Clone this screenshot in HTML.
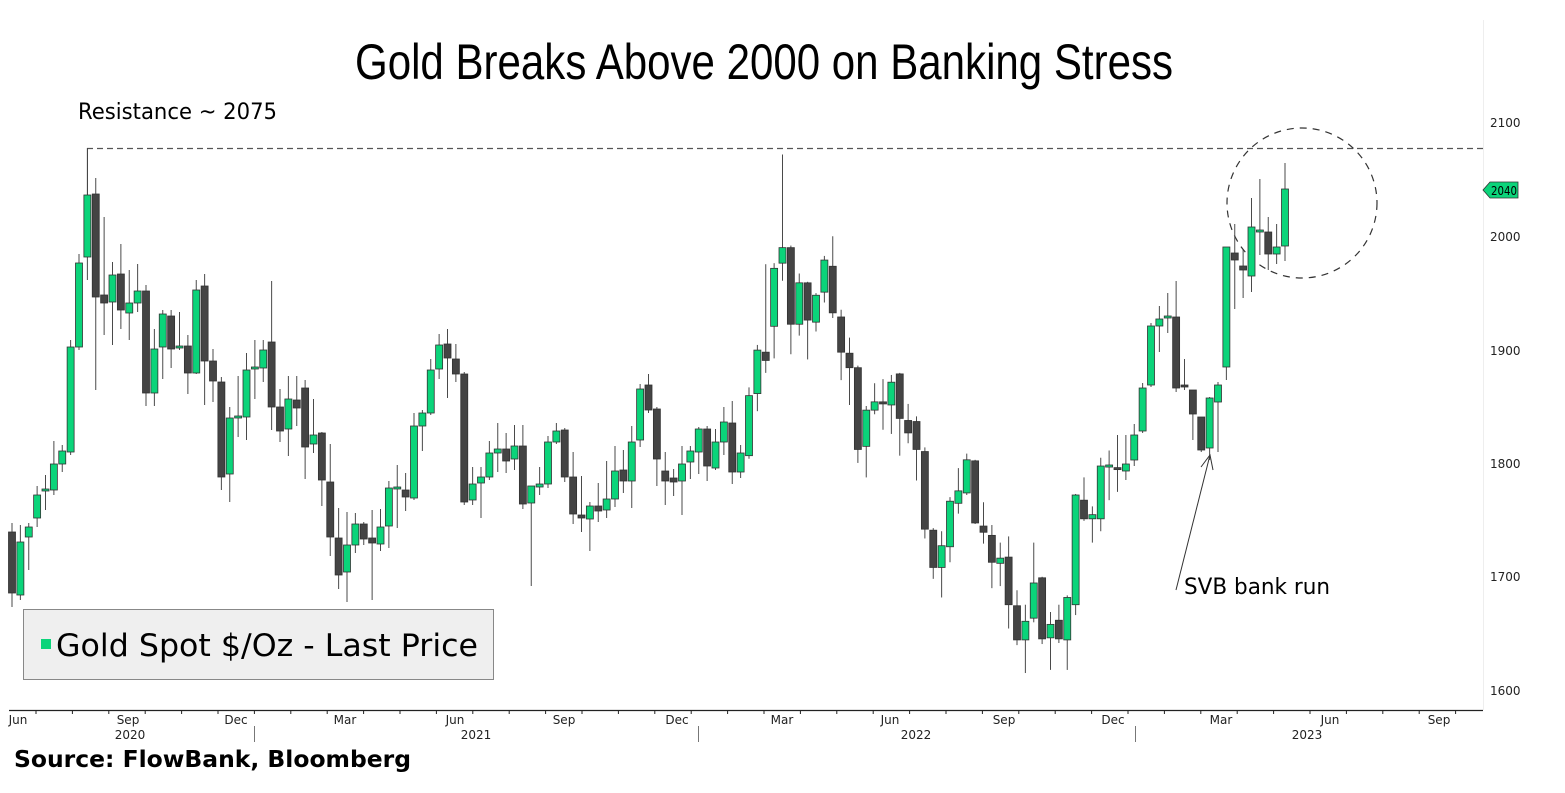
<!DOCTYPE html>
<html><head><meta charset="utf-8"><style>
html,body{margin:0;padding:0;background:#fff;}
svg{display:block;}
text{font-family:"DejaVu Sans","Liberation Sans",sans-serif;}
</style></head><body>
<svg id="s" width="1565" height="793" viewBox="0 0 1565 793" xmlns="http://www.w3.org/2000/svg">
<rect x="0" y="0" width="1565" height="793" fill="#fff"/>
<text x="764" y="79" font-size="50" text-anchor="middle" textLength="818" lengthAdjust="spacingAndGlyphs" fill="#000" style="font-family:'Liberation Sans',sans-serif">Gold Breaks Above 2000 on Banking Stress</text>
<text x="78" y="119" font-size="22" textLength="199" lengthAdjust="spacingAndGlyphs" fill="#000">Resistance ~ 2075</text>
<line x1="87" y1="148.5" x2="1483" y2="148.5" stroke="#555" stroke-width="1.3" stroke-dasharray="6,4"/>
<line x1="87.5" y1="148" x2="87.5" y2="195" stroke="#333" stroke-width="1"/>
<ellipse cx="1302" cy="203" rx="75" ry="75" fill="none" stroke="#333" stroke-width="1.2" stroke-dasharray="7,6"/>
<g id="c"></g>
<line x1="1483.5" y1="20" x2="1483.5" y2="710" stroke="#eee" stroke-width="1"/>
<line x1="9" y1="710.5" x2="1483" y2="710.5" stroke="#222" stroke-width="1.3"/>
<g id="ticks" stroke="#222" stroke-width="1"></g>
<g font-size="12" fill="#222">
<text x="1490" y="127">2100</text>
<text x="1490" y="241">2000</text>
<text x="1490" y="355">1900</text>
<text x="1490" y="468">1800</text>
<text x="1490" y="581">1700</text>
<text x="1490" y="695">1600</text>
</g>
<polygon points="1483,190 1490,182 1518,182 1518,198 1490,198" fill="#0bd47a" stroke="#333" stroke-width="0.8"/>
<text x="1491" y="195" font-size="12" fill="#000" textLength="26" lengthAdjust="spacingAndGlyphs">2040</text>
<g font-size="12" fill="#222" text-anchor="middle">
<text x="18" y="724">Jun</text><text x="128" y="724">Sep</text><text x="236" y="724">Dec</text>
<text x="345" y="724">Mar</text><text x="455" y="724">Jun</text><text x="564" y="724">Sep</text>
<text x="677" y="724">Dec</text><text x="782" y="724">Mar</text><text x="890" y="724">Jun</text>
<text x="1004" y="724">Sep</text><text x="1113" y="724">Dec</text><text x="1221" y="724">Mar</text>
<text x="1330" y="724">Jun</text><text x="1439" y="724">Sep</text>
<text x="130" y="739">2020</text><text x="476" y="739">2021</text><text x="916" y="739">2022</text><text x="1307" y="739">2023</text>
</g>
<g stroke="#777" stroke-width="1">
<line x1="254.5" y1="726" x2="254.5" y2="742"/><line x1="698.5" y1="726" x2="698.5" y2="742"/><line x1="1135.5" y1="726" x2="1135.5" y2="742"/>
</g>
<rect x="23.5" y="609.5" width="470" height="70" fill="#efefef" stroke="#888" stroke-width="1"/>
<rect x="41" y="639" width="10" height="10" fill="#0bd47a"/>
<text x="56" y="656" font-size="31" textLength="422" lengthAdjust="spacingAndGlyphs" fill="#000">Gold Spot $/Oz - Last Price</text>
<line x1="1176" y1="590" x2="1210" y2="455" stroke="#333" stroke-width="1"/>
<polyline points="1201,467 1210,455 1213,470" fill="none" stroke="#333" stroke-width="1"/>
<text x="1184" y="594" font-size="22" textLength="146" lengthAdjust="spacingAndGlyphs" fill="#000">SVB bank run</text>
<text x="14" y="767" font-size="23" font-weight="bold" textLength="397" lengthAdjust="spacingAndGlyphs" fill="#000">Source: FlowBank, Bloomberg</text>
</svg>
<script>
var D=[
[532,593,523,607,'d'],[542,595,525,600,'g'],[527,537,523,570,'g'],[495,518,486,527,'g'],[489,491,475,510,'g'],
[464,490,441,495,'g'],[451,464,445,472,'g'],[347,452,340,455,'g'],[263,347,254,350,'g'],[195,257,148,280,'g'],
[194,297,178,390,'d'],[295,303,217,335,'d'],[275,302,262,345,'g'],[274,310,244,329,'d'],[303,313,270,340,'g'],
[291,303,264,312,'g'],[291,393,285,406,'d'],[349,393,329,406,'g'],[314,347,310,379,'g'],[316,349,310,368,'d'],
[346,348,312,350,'g'],[346,373,335,394,'d'],[290,373,280,374,'g'],[286,361,274,405,'d'],[361,381,349,402,'d'],
[382,477,377,490,'d'],[418,474,407,502,'g'],[416,418,376,437,'g'],[370,417,353,440,'g'],[367,369,340,399,'g'],
[350,368,340,382,'g'],[342,407,281,430,'d'],[407,431,389,442,'d'],[399,429,376,456,'g'],[400,408,376,426,'d'],
[388,447,380,479,'d'],[435,444,399,453,'g'],[433,480,432,506,'d'],[482,537,444,556,'d'],[538,575,508,589,'d'],
[545,572,512,602,'g'],[524,545,513,553,'g'],[524,539,522,545,'d'],[538,543,510,600,'d'],[527,544,509,551,'g'],
[488,526,481,548,'g'],[487,489,465,528,'g'],[490,497,473,511,'d'],[426,498,413,500,'g'],[413,426,410,451,'g'],
[370,413,359,415,'g'],[345,369,334,379,'g'],[344,358,329,398,'d'],[359,374,344,382,'d'],[374,502,372,505,'d'],
[484,500,467,505,'g'],[477,483,467,518,'g'],[453,477,441,480,'g'],[449,453,423,472,'g'],[449,461,433,473,'d'],
[446,459,425,470,'g'],[446,504,425,509,'d'],[486,503,486,586,'g'],[484,487,467,495,'g'],[442,484,436,488,'g'],
[431,442,423,444,'g'],[430,477,428,482,'d'],[477,514,452,524,'d'],[515,518,476,532,'d'],[506,519,502,551,'g'],
[506,511,483,522,'d'],[499,510,461,518,'g'],[471,499,446,507,'g'],[470,481,450,493,'d'],[442,481,426,508,'g'],
[389,440,384,447,'g'],[385,410,374,413,'d'],[409,459,407,486,'d'],[471,481,452,505,'d'],[478,482,469,496,'d'],
[464,481,446,515,'g'],[451,462,446,479,'g'],[429,452,427,474,'g'],[429,466,426,481,'d'],[442,468,429,470,'g'],
[422,442,407,455,'g'],[423,472,401,484,'d'],[453,472,445,478,'g'],
[387,445,379,448,'g',1],[343,385,338,402,'g',1],[345,353,260,365,'d',1],[264,320,259,351,'g',1],[244,259,154,276,'g',1],
[244,318,242,347,'d',1],[278,318,269,329,'g',1],[278,314,277,352,'d',1],[290,316,288,325,'g',1],[256,287,252,297,'g',1],
[262,307,233,312,'d',1],[311,345,304,372,'d',1],[346,360,331,396,'d',1],[360,439,358,452,'d',1],[401,436,397,466,'g',1],
[393,401,375,405,'g',1],[393,395,371,420,'d',1],[374,396,367,424,'g',1],[366,409,365,445,'d',1],[411,423,395,433,'d',1],
[412,439,407,469,'d',1],[441,516,437,525,'d',1],[517,553,515,564,'d',1],[532,553,518,582,'g',1],[489,533,485,548,'g',1],
[479,491,457,501,'g',1],[449,481,443,483,'g',1],[450,510,449,511,'d',1],[513,519,490,530,'d',1],[522,548,512,573,'d',1],
[544,549,529,571,'g',1],[543,589,523,612,'d',1],[590,623,575,628,'d',1],[605,623,589,655,'g',1],[568,602,529,606,'g',1],
[563,622,562,627,'d',1],[608,621,596,652,'g',1],[604,622,589,626,'d',1],[582,623,580,652,'g',1],[483,589,482,599,'g',1],
[488,506,466,508,'d',1],[502,506,494,529,'g',1],[455,506,447,518,'g',1],[454,456,440,488,'g',1],[457,458,425,480,'d',1],
[464,471,435,480,'g'],[435,460,424,466,'g'],[388,431,383,433,'g'],[326,385,323,387,'g'],[319,326,306,352,'g'],
[316,318,293,333,'g'],[317,388,281,392,'d'],[385,387,359,390,'d'],[390,414,408,440,'d'],[417,450,417,452,'d'],
[398,448,397,460,'g'],[385,402,382,452,'g'],[247,367,247,380,'g'],[253,260,224,309,'d'],[266,270,250,298,'d'],
[227,276,198,292,'g'],[230,232,179,255,'g'],[232,254,217,270,'d'],[247,254,224,264,'g'],[189,246,163,261,'g']
];
var g=document.getElementById('c'),h='';
function fx(v,c){return c?140+(v-140)*1.035:v;}
D.forEach(function(d,i){
 var x=12+i*8.375,c=d[5];
 var t=fx(d[0],c),b=fx(d[1],c),hi=fx(d[2],c),lo=fx(d[3],c);
 if(b-t<2){var m=(t+b)/2;t=m-1;b=m+1;}
 h+='<line x1="'+x+'" y1="'+hi+'" x2="'+x+'" y2="'+lo+'" stroke="#4a4a4a" stroke-width="1"/>';
 h+='<rect x="'+(x-3.5)+'" y="'+t+'" width="7" height="'+(b-t)+'" fill="'+(d[4]=='g'?'#0bd47a':'#444')+'" stroke="#333" stroke-width="0.8"/>';
});
g.innerHTML=h;
var tk='';for(var x=36;x<1483;x+=36.4){tk+='<line x1="'+x.toFixed(1)+'" y1="710" x2="'+x.toFixed(1)+'" y2="714"/>';}
document.getElementById('ticks').innerHTML=tk;
</script>
</body></html>
